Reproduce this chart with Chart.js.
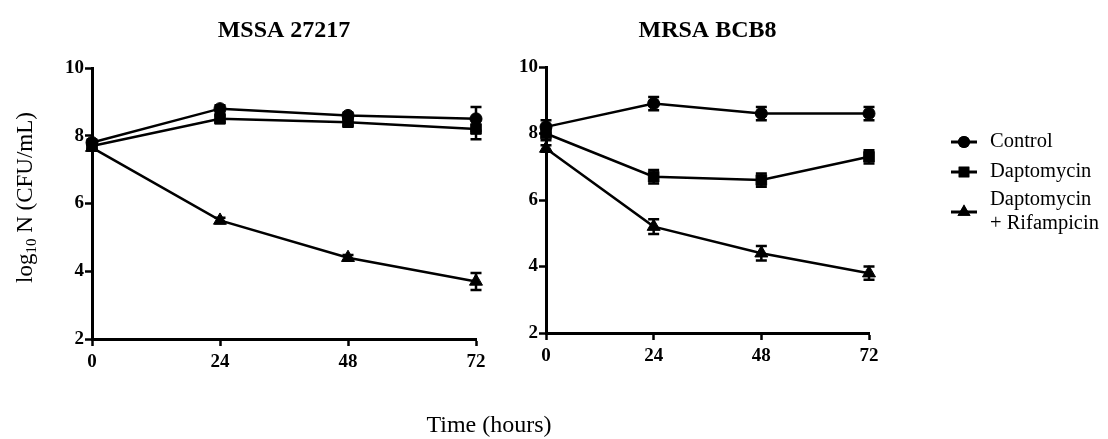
<!DOCTYPE html>
<html>
<head>
<meta charset="utf-8">
<script src="https://cdn.jsdelivr.net/npm/chart.js@4.4.1/dist/chart.umd.min.js"></script>
<style>
  html, body { margin: 0; padding: 0; background: #fff; }
  #wrap { position: relative; width: 1108px; height: 439px; }
  #wrap canvas { position: absolute; left: 0; top: 0; }
</style>
</head>
<body>
<div id="wrap">
  <canvas id="chartA" width="1108" height="439"></canvas>
  <canvas id="chartB" width="1108" height="439"></canvas>
</div>
<script>
const hours = [0, 24, 48, 72];
const yTicks = [2, 4, 6, 8, 10];
const seriesNames = ['Control', 'Daptomycin', 'Daptomycin + Rifampicin'];
const legendLines = [['Control'], ['Daptomycin'], ['Daptomycin', '+ Rifampicin']];
const markers = ['circle', 'rect', 'triangle'];
const markerSizes = [6, 7.5, 7.5];

// MSSA 27217 (log10 CFU/mL, mean and error)
const mssaControl = [7.8, 8.8, 8.6, 8.5];
const mssaControlErr = [0.08, 0.1, 0.08, 0.35];
const mssaDapto = [7.7, 8.5, 8.4, 8.2];
const mssaDaptoErr = [0.08, 0.1, 0.1, 0.3];
const mssaDaptoRif = [7.65, 5.5, 4.4, 3.7];
const mssaDaptoRifErr = [0.08, 0.08, 0.08, 0.25];

// MRSA BCB8
const mrsaControl = [8.2, 8.9, 8.6, 8.6];
const mrsaControlErr = [0.2, 0.2, 0.2, 0.2];
const mrsaDapto = [8.0, 6.7, 6.6, 7.3];
const mrsaDaptoErr = [0.2, 0.2, 0.2, 0.2];
const mrsaDaptoRif = [7.55, 5.2, 4.4, 3.8];
const mrsaDaptoRifErr = [0.1, 0.22, 0.22, 0.2];

const serif = "'Liberation Serif', 'Times New Roman', serif";

// Error bars drawn through the chart scales
const errorBars = {
    id: 'errorBars',
    afterDatasetsDraw(chart) {
        const ctx = chart.ctx;
        const xs = chart.scales.x;
        const ys = chart.scales.y;
        ctx.save();
        ctx.strokeStyle = '#000';
        ctx.lineWidth = 2.5;
        chart.data.datasets.forEach(ds => {
            ds.data.forEach((p, i) => {
                const e = ds.errors[i];
                const x = xs.getPixelForValue(p.x);
                const top = ys.getPixelForValue(p.y + e);
                const bot = ys.getPixelForValue(p.y - e);
                ctx.beginPath();
                ctx.moveTo(x, top); ctx.lineTo(x, bot);
                ctx.moveTo(x - 5.5, top); ctx.lineTo(x + 5.5, top);
                ctx.moveTo(x - 5.5, bot); ctx.lineTo(x + 5.5, bot);
                ctx.stroke();
            });
        });
        ctx.restore();
    }
};

// Shared axis titles (drawn once, on the left chart)
const sharedTitles = {
    id: 'sharedTitles',
    afterDraw(chart) {
        const ctx = chart.ctx;
        const area = chart.chartArea;
        ctx.save();
        ctx.fillStyle = '#000';
        ctx.textBaseline = 'alphabetic';

        // x title
        ctx.font = '24px ' + serif;
        ctx.textAlign = 'center';
        ctx.fillText('Time (hours)', 489, 432);

        // y title with subscript
        const big = '23px ' + serif;
        const small = '15px ' + serif;
        ctx.font = big;
        const w1 = ctx.measureText('log').width;
        const w3 = ctx.measureText(' N (CFU/mL)').width;
        ctx.font = small;
        const w2 = ctx.measureText('10').width;
        const total = w1 + w2 + w3;
        ctx.translate(32, (area.top + area.bottom) / 2 - 6);
        ctx.rotate(-Math.PI / 2);
        ctx.textAlign = 'left';
        let x = -total / 2;
        ctx.font = big;
        ctx.fillText('log', x, 0);
        x += w1;
        ctx.font = small;
        ctx.fillText('10', x, 4);
        x += w2;
        ctx.font = big;
        ctx.fillText(' N (CFU/mL)', x, 0);
        ctx.restore();
    }
};

// Legend with line + marker, drawn beside the right chart
const sideLegend = {
    id: 'sideLegend',
    afterDraw(chart) {
        const ctx = chart.ctx;
        const rows = [142, 172, 212];
        ctx.save();
        chart.data.datasets.forEach((ds, i) => {
            const y = rows[i];
            ctx.strokeStyle = '#000';
            ctx.lineWidth = 3;
            ctx.beginPath();
            ctx.moveTo(951, y);
            ctx.lineTo(977, y);
            ctx.stroke();
            ctx.fillStyle = '#000';
            Chart.helpers.drawPoint(ctx, {
                pointStyle: ds.pointStyle,
                radius: ds.pointRadius,
                rotation: 0,
                borderWidth: 0
            }, 964, y);
            ctx.fill();
            ctx.font = '20.5px ' + serif;
            ctx.textAlign = 'left';
            ctx.textBaseline = 'middle';
            const lines = legendLines[i];
            const y0 = y - (lines.length - 1) * 12;
            lines.forEach((t, k) => ctx.fillText(t, 990, y0 + k * 24));
        });
        ctx.restore();
    }
};

function makeDatasets(values, errors) {
    return values.map((vals, i) => ({
        label: seriesNames[i],
        data: hours.map((h, k) => ({ x: h, y: vals[k] })),
        errors: errors[i],
        borderColor: '#000',
        backgroundColor: '#000',
        borderWidth: 2.5,
        pointStyle: markers[i],
        pointRadius: markerSizes[i],
        pointHoverRadius: markerSizes[i],
        pointBorderWidth: 1,
        pointBackgroundColor: '#000',
        pointBorderColor: '#000',
        tension: 0,
        clip: false
    }));
}

function axisOptions(tickValues, min, max, fitFn, pad) {
    return {
        type: 'linear',
        min: min,
        max: max,
        afterBuildTicks: scale => { scale.ticks = tickValues.map(v => ({ value: v })); },
        afterFit: fitFn,
        ticks: {
            color: '#000',
            font: { family: serif, size: 19, weight: 'bold' },
            padding: pad
        },
        grid: {
            drawOnChartArea: false,
            drawTicks: true,
            tickLength: 7,
            tickWidth: 2.5,
            tickColor: '#000'
        },
        border: { display: true, color: '#000', width: 3 }
    };
}

function makeChart(canvasId, title, values, errors, padding, yWidth, titleBottom, plugins) {
    const ctx = document.getElementById(canvasId).getContext('2d');
    return new Chart(ctx, {
        type: 'line',
        data: { datasets: makeDatasets(values, errors) },
        options: {
            responsive: false,
            animation: false,
            layout: { padding: padding },
            plugins: {
                legend: { display: false },
                tooltip: { enabled: false },
                title: {
                    display: true,
                    text: title,
                    fullSize: false,
                    color: '#000',
                    font: { family: serif, size: 24, weight: 'bold' },
                    padding: { top: 6, bottom: titleBottom }
                }
            },
            scales: {
                x: axisOptions(hours, 0, 72, s => { s.height = 30; }, 5),
                y: axisOptions(yTicks, 2, 10, s => { s.width = yWidth; }, 1)
            }
        },
        plugins: [errorBars].concat(plugins)
    });
}

makeChart('chartA', 'MSSA 27217',
    [mssaControl, mssaDapto, mssaDaptoRif],
    [mssaControlErr, mssaDaptoErr, mssaDaptoRifErr],
    { left: 0, right: 632, top: 10, bottom: 70 }, 92, 23.2, [sharedTitles]);

makeChart('chartB', 'MRSA BCB8',
    [mrsaControl, mrsaDapto, mrsaDaptoRif],
    [mrsaControlErr, mrsaDaptoErr, mrsaDaptoRifErr],
    { left: 480, right: 239, top: 10, bottom: 76 }, 66, 22.2, [sideLegend]);
</script>
</body>
</html>
